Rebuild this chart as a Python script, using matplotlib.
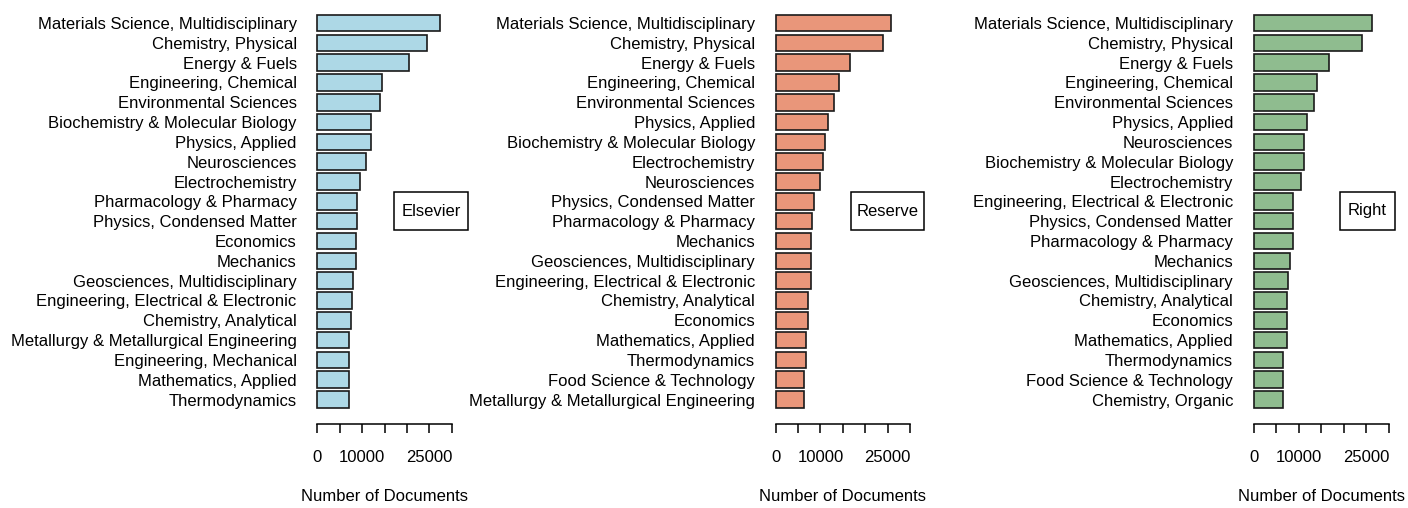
import matplotlib
matplotlib.use("Agg")
import matplotlib.pyplot as plt
from matplotlib.patches import Rectangle

plt.rcParams['font.family'] = ['Liberation Sans', 'DejaVu Sans']

W, H = 1408, 508

els_labels = ["Materials Science, Multidisciplinary", "Chemistry, Physical", "Energy & Fuels",
              "Engineering, Chemical", "Environmental Sciences", "Biochemistry & Molecular Biology",
              "Physics, Applied", "Neurosciences", "Electrochemistry", "Pharmacology & Pharmacy",
              "Physics, Condensed Matter", "Economics", "Mechanics", "Geosciences, Multidisciplinary",
              "Engineering, Electrical & Electronic", "Chemistry, Analytical",
              "Metallurgy & Metallurgical Engineering", "Engineering, Mechanical",
              "Mathematics, Applied", "Thermodynamics"]
els_values = [27390, 24550, 20400, 14440, 14060, 11920, 11920, 10940, 9460, 8790,
              8790, 8570, 8570, 8040, 7750, 7450, 7010, 7010, 7010, 7010]

res_labels = ["Materials Science, Multidisciplinary", "Chemistry, Physical", "Energy & Fuels",
              "Engineering, Chemical", "Environmental Sciences", "Physics, Applied",
              "Biochemistry & Molecular Biology", "Electrochemistry", "Neurosciences",
              "Physics, Condensed Matter", "Pharmacology & Pharmacy", "Mechanics",
              "Geosciences, Multidisciplinary", "Engineering, Electrical & Electronic",
              "Chemistry, Analytical", "Economics", "Mathematics, Applied", "Thermodynamics",
              "Food Science & Technology", "Metallurgy & Metallurgical Engineering"]
res_values = [25760, 23970, 16600, 14140, 13090, 11680, 11010, 10640, 9900, 8490,
              8180, 7890, 7890, 7890, 7150, 7150, 6770, 6770, 6390, 6390]

rig_labels = ["Materials Science, Multidisciplinary", "Chemistry, Physical", "Energy & Fuels",
              "Engineering, Chemical", "Environmental Sciences", "Physics, Applied",
              "Neurosciences", "Biochemistry & Molecular Biology", "Electrochemistry",
              "Engineering, Electrical & Electronic", "Physics, Condensed Matter",
              "Pharmacology & Pharmacy", "Mechanics", "Geosciences, Multidisciplinary",
              "Chemistry, Analytical", "Economics", "Mathematics, Applied", "Thermodynamics",
              "Food Science & Technology", "Chemistry, Organic"]
rig_values = [26160, 24080, 16760, 13970, 13300, 11880, 11220, 11220, 10490, 8710,
              8710, 8710, 8050, 7670, 7320, 7320, 7320, 6560, 6560, 6560]

tick_values = [0, 5000, 10000, 15000, 20000, 25000, 30000]
tick_labels = ["0", "", "10000", "", "", "25000", ""]
xlabel = "Number of Documents"

panels = [
    (els_labels, els_values, "#ADD8E6", "Elsevier", 317.3, 451.7, (394, 468)),
    (res_labels, res_values, "#E9967A", "Reserve", 775.7, 910.0, (851, 924)),
    (rig_labels, rig_values, "#8FBC8F", "Right", 1253.7, 1389.0, (1340, 1395)),
]

fig = plt.figure(figsize=(W / 100, H / 100), dpi=100)

axis_px = 423.5
top_px = -1.0
for labels, values, color, name, x0, x30, (bx0, bx1) in panels:
    ppu = (x30 - x0) / 30000.0
    left = x0 - 1200 * ppu
    right = x30 + 1200 * ppu
    ax = fig.add_axes([left / W, (H - axis_px) / H, (right - left) / W, (axis_px - top_px) / H])
    n = len(values)
    ypos = [0.7 + 1.2 * (n - 1 - i) for i in range(n)]
    ax.barh(ypos, values, height=1.0, color=color, edgecolor="#1a1a1a", linewidth=1.2)
    ax.set_xlim(-1200, 31200)
    ax.set_ylim(0.2 - 0.952, 24.0 + 0.952)
    for s in ["top", "right", "left"]:
        ax.spines[s].set_visible(False)
    ax.spines["bottom"].set_bounds(0, 30000)
    ax.spines["bottom"].set_linewidth(1.1)
    ax.set_xticks(tick_values)
    ax.set_xticklabels(tick_labels, fontsize=12)
    ax.tick_params(axis="x", length=6.8, width=1.1, pad=12.6)
    ax.set_yticks(ypos)
    ax.set_yticklabels(labels, fontsize=12)
    ax.tick_params(axis="y", length=0, pad=11)
    ax.set_xlabel(xlabel, fontsize=12)
    ax.xaxis.set_label_coords(0.5, (axis_px - 489) / (axis_px - top_px))
    fig.patches.append(Rectangle((bx0 / W, (H - 230) / H), (bx1 - bx0) / W, 38 / H,
                                 transform=fig.transFigure, facecolor="white",
                                 edgecolor="black", linewidth=1.1))
    fig.text((bx0 + bx1) / 2 / W, (H - 211) / H, name, ha="center", va="center", fontsize=12)

fig.savefig("out.png", dpi=100)
